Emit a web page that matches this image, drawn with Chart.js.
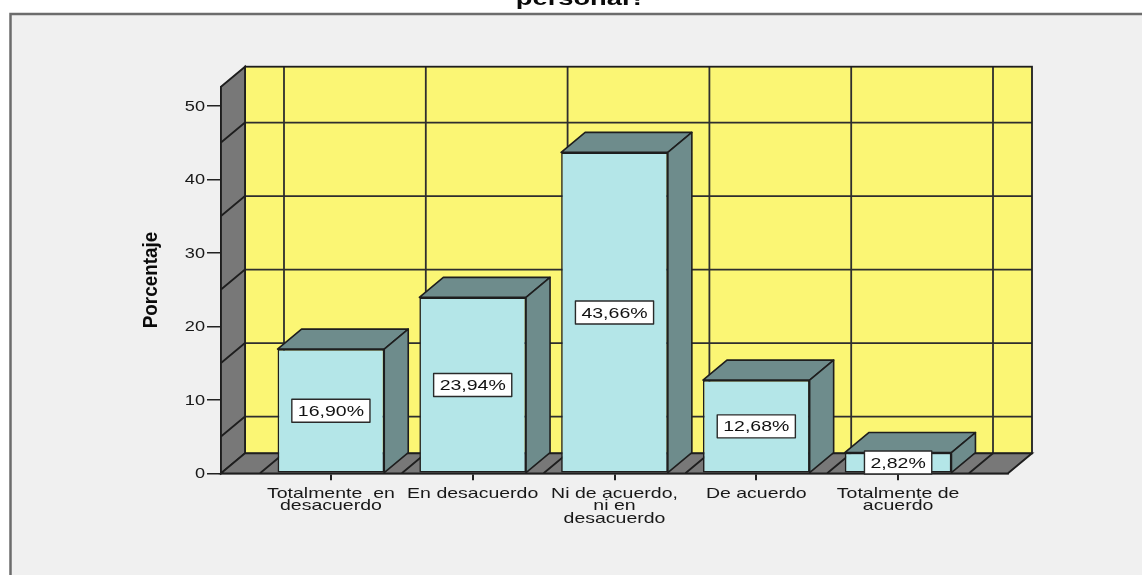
<!DOCTYPE html>
<html>
<head>
<meta charset="utf-8">
<script src="https://cdn.jsdelivr.net/npm/chart.js@4/dist/chart.umd.min.js"></script>
<style>
  html, body { margin: 0; padding: 0; background: #fff; }
  canvas { display: block; }
</style>
</head>
<body>
<canvas id="chart" width="1142" height="575"></canvas>
<script>
// answer categories (each entry is one wrapped label)
const categories = [
  ["Totalmente  en", "desacuerdo"],
  ["En desacuerdo"],
  ["Ni de acuerdo,", "ni en", "desacuerdo"],
  ["De acuerdo"],
  ["Totalmente de", "acuerdo"]
];
const percentages = [16.90, 23.94, 43.66, 12.68, 2.82];
const yTicks = [0, 10, 20, 30, 40, 50];
const wallLines = [5, 15, 25, 35, 45];
const titleText = "personal?";
const axisTitle = "Porcentaje";

// depth of the 3d box (px)
const DX = 24;
const DY = -20;
// the labels come out wide, like the old spss export
const STRETCH = 1.3;
const FONT = '"Liberation Sans", Arial, sans-serif';

const fmt = (v) => v.toFixed(2).replace('.', ',') + '%';

function wideText(ctx, text, x, y, align) {
  ctx.save();
  ctx.translate(x, y);
  ctx.scale(STRETCH, 1);
  ctx.textAlign = align;
  ctx.fillText(text, 0, 0);
  ctx.restore();
}

function poly(ctx, pts, fill, stroke) {
  ctx.beginPath();
  ctx.moveTo(pts[0][0], pts[0][1]);
  for (let i = 1; i < pts.length; i++) ctx.lineTo(pts[i][0], pts[i][1]);
  ctx.closePath();
  if (fill) { ctx.fillStyle = fill; ctx.fill(); }
  if (stroke) { ctx.strokeStyle = stroke; ctx.stroke(); }
}

const box3d = {
  id: 'box3d',
  beforeDraw(chart) {
    const ctx = chart.ctx;
    const w = chart.width, h = chart.height;
    ctx.save();
    ctx.fillStyle = '#ffffff';
    ctx.fillRect(0, 0, w, h);
    ctx.fillStyle = '#f0f0f0';
    ctx.fillRect(10, 13, w, h);
    ctx.strokeStyle = '#6c6c6c';
    ctx.lineWidth = 2.5;
    ctx.beginPath();
    ctx.moveTo(10.5, h + 5);
    ctx.lineTo(10.5, 14);
    ctx.lineTo(w + 5, 14);
    ctx.stroke();
    ctx.restore();
  },
  beforeDatasetsDraw(chart) {
    const ctx = chart.ctx;
    const xs = chart.scales.x, ys = chart.scales.y;
    const { left: L, right: R, top: T, bottom: B } = chart.chartArea;
    ctx.save();
    const line = '#1e1e1e';

    // back wall
    ctx.fillStyle = '#fbf674';
    ctx.fillRect(L + DX, T + DY, R - L, B - T);
    ctx.strokeStyle = '#2e2e2e';
    ctx.lineWidth = 1.8;
    ctx.beginPath();
    for (let i = 0; i <= categories.length; i++) {
      const x = xs.getPixelForValue(i - 0.5) + DX;
      ctx.moveTo(x, T + DY);
      ctx.lineTo(x, B + DY);
    }
    for (const v of wallLines) {
      const y = ys.getPixelForValue(v) + DY;
      ctx.moveTo(L + DX, y);
      ctx.lineTo(R + DX, y);
    }
    ctx.stroke();
    ctx.lineWidth = 1.8;
    ctx.strokeStyle = line;
    ctx.strokeRect(L + DX, T + DY, R - L, B - T);

    // left wall
    poly(ctx, [[L, B], [L, T], [L + DX, T + DY], [L + DX, B + DY]], '#787878', line);
    ctx.beginPath();
    for (const v of wallLines) {
      const y = ys.getPixelForValue(v);
      ctx.moveTo(L, y);
      ctx.lineTo(L + DX, y + DY);
    }
    ctx.stroke();

    // floor
    poly(ctx, [[L, B], [R, B], [R + DX, B + DY], [L + DX, B + DY]], '#787878', line);
    ctx.beginPath();
    for (let i = 0; i <= categories.length; i++) {
      const x = xs.getPixelForValue(i - 0.5);
      ctx.moveTo(x, B);
      ctx.lineTo(x + DX, B + DY);
    }
    ctx.stroke();
    ctx.restore();
  },
  afterDatasetsDraw(chart) {
    const ctx = chart.ctx;
    const meta = chart.getDatasetMeta(0);
    ctx.save();
    ctx.lineJoin = 'round';
    meta.data.forEach((el, i) => {
      const { x, y, base, width } = el.getProps(['x', 'y', 'base', 'width'], true);
      const l = x - width / 2, r = x + width / 2;
      ctx.lineWidth = 1.6;
      poly(ctx, [[l, y], [l + DX, y + DY], [r + DX, y + DY], [r, y]], '#6e8c8c', '#1e1e1e');
      poly(ctx, [[r, y], [r + DX, y + DY], [r + DX, base + DY], [r, base]], '#6e8c8c', '#1e1e1e');

      // value box
      const txt = fmt(percentages[i]);
      ctx.font = '15px ' + FONT;
      const tw = ctx.measureText(txt).width * STRETCH;
      const bw = tw + 12, bh = 23;
      const cy = (y + base) / 2;
      ctx.fillStyle = '#ffffff';
      ctx.fillRect(x - bw / 2, cy - bh / 2, bw, bh);
      ctx.strokeStyle = '#2a2a2a';
      ctx.lineWidth = 1.4;
      ctx.strokeRect(x - bw / 2, cy - bh / 2, bw, bh);
      ctx.fillStyle = '#111';
      ctx.textBaseline = 'middle';
      wideText(ctx, txt, x, cy + 1, 'center');
    });
    ctx.restore();
  },
  afterDraw(chart) {
    const ctx = chart.ctx;
    const xs = chart.scales.x, ys = chart.scales.y;
    ctx.save();
    ctx.fillStyle = '#181818';

    // y tick labels
    ctx.font = '14px ' + FONT;
    ctx.textBaseline = 'middle';
    for (const v of yTicks) {
      wideText(ctx, String(v), 205, ys.getPixelForValue(v) + 1, 'right');
    }

    // category labels
    ctx.font = '15px ' + FONT;
    ctx.textBaseline = 'alphabetic';
    categories.forEach((lines, i) => {
      const x = xs.getPixelForValue(i);
      lines.forEach((t, k) => wideText(ctx, t, x, 497.5 + k * 12.6, 'center'));
    });

    // axis title, tall and narrow
    ctx.save();
    ctx.translate(157, 280);
    ctx.rotate(-Math.PI / 2);
    ctx.scale(1.05, 1.15);
    ctx.font = 'bold 18px ' + FONT;
    ctx.textAlign = 'center';
    ctx.fillStyle = '#0a0a0a';
    ctx.fillText(axisTitle, 0, 0);
    ctx.restore();

    // chart title, runs off the top
    ctx.font = 'bold 21px ' + FONT;
    ctx.fillStyle = '#0a0a0a';
    wideText(ctx, titleText, 581, 5, 'center');
    ctx.restore();
  }
};

new Chart(document.getElementById('chart'), {
  type: 'bar',
  data: {
    datasets: [{
      data: percentages.map((v, i) => ({ x: i, y: v })),
      backgroundColor: '#b4e6e8',
      borderColor: '#1e1e1e',
      borderWidth: 1.6,
      borderSkipped: false,
      barPercentage: 0.7525,
      categoryPercentage: 1
    }]
  },
  options: {
    responsive: false,
    animation: false,
    layout: { padding: { left: 0, right: 134, top: 86.7, bottom: 0 } },
    plugins: {
      legend: { display: false },
      tooltip: { enabled: false },
      title: { display: false }
    },
    scales: {
      x: {
        type: 'linear',
        min: -0.775,
        max: 4.775,
        offset: false,
        afterBuildTicks: (s) => { s.ticks = categories.map((c, i) => ({ value: i })); },
        afterFit: (s) => { s.height = 575 - 473.3; },
        grid: { drawOnChartArea: false, drawTicks: true, tickLength: 7, color: '#222', lineWidth: 2, offset: false },
        border: { display: true, color: '#1e1e1e', width: 1.5 },
        ticks: { display: false }
      },
      y: {
        min: 0,
        max: 52.6,
        afterBuildTicks: (s) => { s.ticks = yTicks.map((v) => ({ value: v })); },
        afterFit: (s) => { s.width = 221; },
        grid: { drawOnChartArea: false, drawTicks: true, tickLength: 14, color: '#222', lineWidth: 1.5 },
        border: { display: true, color: '#1e1e1e', width: 1.5 },
        ticks: { display: false }
      }
    }
  },
  plugins: [box3d]
});
</script>
</body>
</html>
